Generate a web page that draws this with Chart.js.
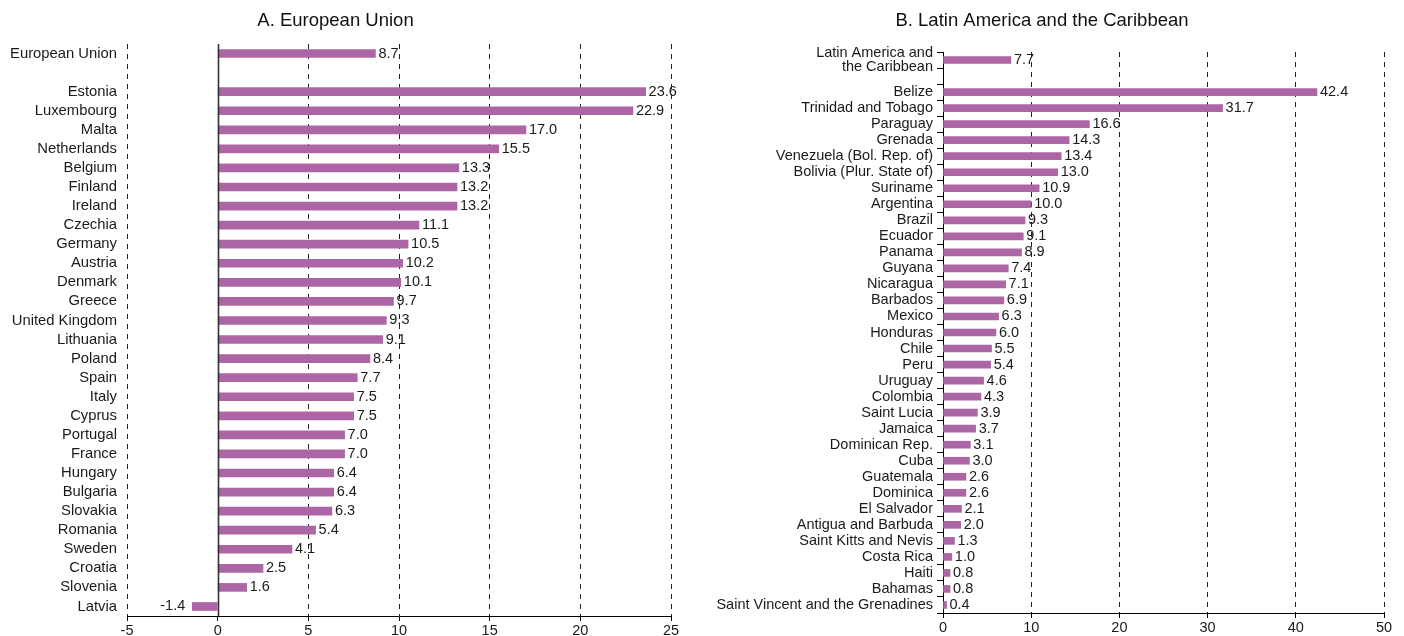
<!DOCTYPE html>
<html>
<head>
<meta charset="utf-8">
<script src="https://cdn.jsdelivr.net/npm/chart.js@4.4.1/dist/chart.umd.min.js"></script>
<style>
  html, body { margin: 0; padding: 0; background: #fff; }
  #wrap { position: relative; width: 1404px; height: 636px; }
  .box { position: absolute; top: 0; height: 636px; }
</style>
</head>
<body>
<div id="wrap">
  <div class="box" style="left:0;width:700px"><canvas id="euChart"></canvas></div>
  <div class="box" style="left:700px;width:704px"><canvas id="lacChart"></canvas></div>
</div>
<script>
// panel A - European Union ('' = empty row under the aggregate)
var euLabels = ['European Union', '', 'Estonia', 'Luxembourg', 'Malta', 'Netherlands', 'Belgium',
  'Finland', 'Ireland', 'Czechia', 'Germany', 'Austria', 'Denmark', 'Greece', 'United Kingdom',
  'Lithuania', 'Poland', 'Spain', 'Italy', 'Cyprus', 'Portugal', 'France', 'Hungary', 'Bulgaria',
  'Slovakia', 'Romania', 'Sweden', 'Croatia', 'Slovenia', 'Latvia']
var euValues = [8.7, null, 23.6, 22.9, 17.0, 15.5, 13.3, 13.2, 13.2, 11.1, 10.5, 10.2, 10.1, 9.7,
  9.3, 9.1, 8.4, 7.7, 7.5, 7.5, 7.0, 7.0, 6.4, 6.4, 6.3, 5.4, 4.1, 2.5, 1.6, -1.4]
var euTicks = [-5, 0, 5, 10, 15, 20, 25]

// panel B - Latin America and the Caribbean
var lacLabels = [['Latin America and', 'the Caribbean'], '', 'Belize', 'Trinidad and Tobago', 'Paraguay',
  'Grenada', 'Venezuela (Bol. Rep. of)', 'Bolivia (Plur. State of)', 'Suriname', 'Argentina', 'Brazil',
  'Ecuador', 'Panama', 'Guyana', 'Nicaragua', 'Barbados', 'Mexico', 'Honduras', 'Chile', 'Peru',
  'Uruguay', 'Colombia', 'Saint Lucia', 'Jamaica', 'Dominican Rep.', 'Cuba', 'Guatemala', 'Dominica',
  'El Salvador', 'Antigua and Barbuda', 'Saint Kitts and Nevis', 'Costa Rica', 'Haiti', 'Bahamas',
  'Saint Vincent and the Grenadines']
var lacValues = [7.7, null, 42.4, 31.7, 16.6, 14.3, 13.4, 13.0, 10.9, 10.0, 9.3, 9.1, 8.9, 7.4, 7.1,
  6.9, 6.3, 6.0, 5.5, 5.4, 4.6, 4.3, 3.9, 3.7, 3.1, 3.0, 2.6, 2.6, 2.1, 2.0, 1.3, 1.0, 0.8, 0.8, 0.4]
var lacTicks = [0, 10, 20, 30, 40, 50]

var barColor = '#ad66a5'
var fontFamily = '"Liberation Sans", Arial, sans-serif'

Chart.defaults.font.family = fontFamily
Chart.defaults.font.size = 14.5
Chart.defaults.color = '#1a1a1a'

// value written at the end of every bar
var valueLabels = {
  id: 'valueLabels',
  afterDatasetsDraw: function(chart) {
    var ctx = chart.ctx
    var meta = chart.getDatasetMeta(0)
    var values = chart.data.datasets[0].data
    ctx.save()
    ctx.font = '14.5px ' + fontFamily
    ctx.fillStyle = '#1a1a1a'
    ctx.textBaseline = 'middle'
    meta.data.forEach(function(bar, i) {
      var v = values[i]
      if (v === null) return
      if (v < 0) {
        ctx.textAlign = 'right'
        ctx.fillText(v.toFixed(1), bar.x - 7, bar.y)
      } else {
        ctx.textAlign = 'left'
        ctx.fillText(v.toFixed(1), bar.x + 3, bar.y)
      }
    })
    ctx.restore()
  }
}

// solid line at zero for panel A
var zeroLine = {
  id: 'zeroLine',
  afterDatasetsDraw: function(chart) {
    var ctx = chart.ctx
    var x = Math.round(chart.scales.x.getPixelForValue(0)) + 0.5
    ctx.save()
    ctx.strokeStyle = '#333'
    ctx.lineWidth = 1.6
    ctx.beginPath()
    ctx.moveTo(x, chart.chartArea.top)
    ctx.lineTo(x, chart.chartArea.bottom)
    ctx.stroke()
    ctx.restore()
  }
}

function xScale(ticks, axisHeight) {
  return {
    type: 'linear',
    min: ticks[0],
    max: ticks[ticks.length - 1],
    afterBuildTicks: function(scale) {
      scale.ticks = ticks.map(function(t) { return { value: t } })
    },
    afterFit: function(scale) { scale.height = axisHeight },
    ticks: { padding: 1, font: { size: 14.5 }, color: '#1a1a1a' },
    grid: {
      color: function(c) { return c.tick && c.tick.value === 0 ? 'rgba(0,0,0,0)' : '#222' },
      lineWidth: 1,
      drawTicks: true,
      tickLength: 5,
      tickColor: '#000',
      tickBorderDash: []
    },
    border: { display: true, color: '#000', width: 1, dash: [5, 5] }
  }
}

var euChart = new Chart(document.getElementById('euChart').getContext('2d'), {
  type: 'bar',
  data: {
    labels: euLabels,
    datasets: [{
      data: euValues,
      backgroundColor: barColor,
      borderWidth: 0,
      barThickness: 8
    }]
  },
  options: {
    indexAxis: 'y',
    responsive: true,
    maintainAspectRatio: false,
    animation: false,
    layout: { padding: { top: 0, right: 29, bottom: 0, left: 0 } },
    plugins: {
      legend: { display: false },
      tooltip: { enabled: false },
      title: {
        display: true,
        text: 'A. European Union',
        color: '#111',
        font: { size: 18.5, weight: 'normal' },
        padding: { top: 10, bottom: 11.8 }
      }
    },
    scales: {
      x: xScale(euTicks, 20),
      y: {
        type: 'category',
        offset: true,
        afterFit: function(scale) { scale.width = 127 },
        ticks: { autoSkip: false, padding: 10, color: '#1a1a1a', font: { size: 14.8 } },
        grid: { display: false, drawTicks: false },
        border: { display: false }
      }
    }
  },
  plugins: [valueLabels, zeroLine]
})

var lacChart = new Chart(document.getElementById('lacChart').getContext('2d'), {
  type: 'bar',
  data: {
    labels: lacLabels,
    datasets: [{
      data: lacValues,
      backgroundColor: barColor,
      borderWidth: 0,
      barThickness: 7
    }]
  },
  options: {
    indexAxis: 'y',
    responsive: true,
    maintainAspectRatio: false,
    animation: false,
    layout: { padding: { top: 0, right: 20, bottom: 0, left: 0 } },
    plugins: {
      legend: { display: false },
      tooltip: { enabled: false },
      title: {
        display: true,
        text: 'B. Latin America and the Caribbean',
        color: '#111',
        font: { size: 18.5, weight: 'normal' },
        padding: { top: 10, bottom: 19.8 }
      }
    },
    scales: {
      x: xScale(lacTicks, 23),
      y: {
        type: 'category',
        offset: true,
        afterFit: function(scale) { scale.width = 243 },
        ticks: { autoSkip: false, padding: 4, color: '#1a1a1a', font: { size: 14.5, lineHeight: 0.95 } },
        grid: {
          offset: true,
          drawOnChartArea: false,
          drawTicks: true,
          tickLength: 6,
          tickColor: '#000'
        },
        border: { display: true, color: '#000', width: 1 }
      }
    }
  },
  plugins: [valueLabels]
})
</script>
</body>
</html>
